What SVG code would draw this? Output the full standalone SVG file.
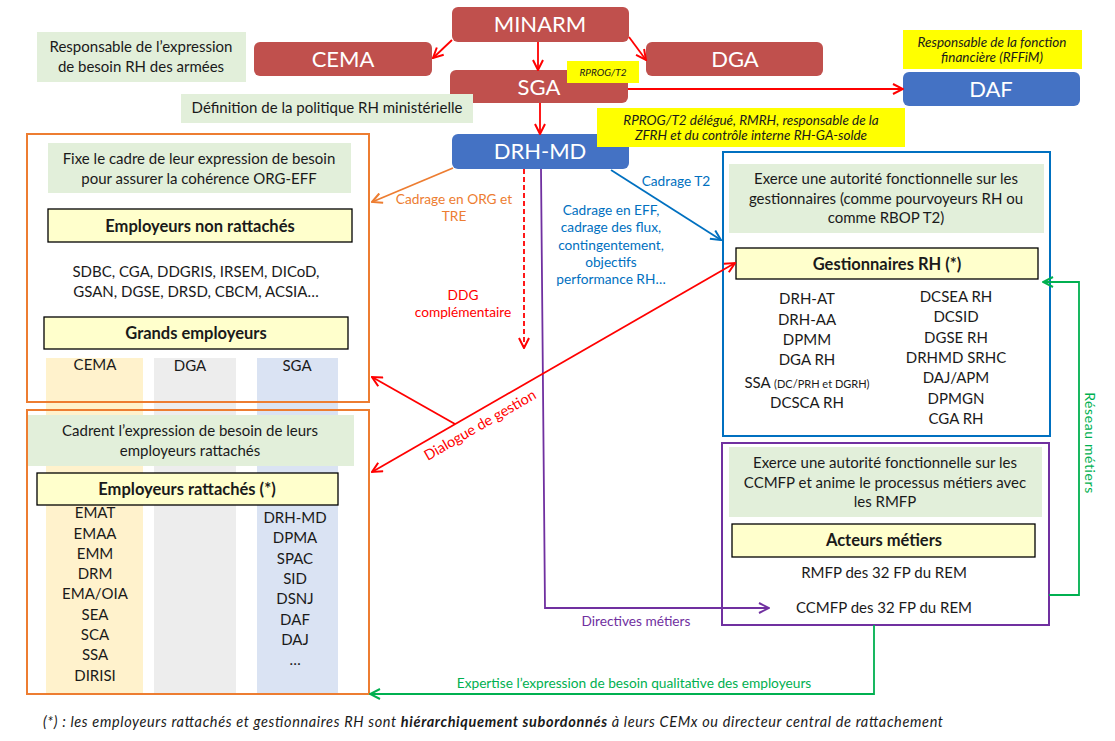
<svg xmlns="http://www.w3.org/2000/svg" width="1115" height="741" viewBox="0 0 1115 741">
<defs>
<style>
text{font-family:Lato,"Open Sans","Liberation Sans",sans-serif;fill:#1a1a1a;text-anchor:middle}
.big{font-size:22px;fill:#fff}
.note{fill:#E2EFDA}
.nt{font-size:15px}
.yel{fill:#FFFF00}
.yt{font-size:13.5px;font-style:italic}
.hdr{fill:#FFFFCC;stroke:#000;stroke-width:1.3}
.ht{font-size:16.5px;font-weight:bold}
.li{font-size:15px}
.red{fill:#C0504D}
.blue{fill:#4472C4}
.c{fill:none;stroke-width:1.8}
.cr{stroke:#FF0000}
.co{stroke:#ED7D31}
.cb{stroke:#0070C0}
.cp{stroke:#7030A0}
.cg{stroke:#00B050}
.lab{font-size:13.7px}
</style>
<marker id="ar" viewBox="0 0 12 12" refX="11" refY="6" markerWidth="12" markerHeight="12" markerUnits="userSpaceOnUse" orient="auto-start-reverse"><path d="M1,1 L11,6 L1,11" fill="none" stroke="#FF0000" stroke-width="2"/></marker>
<marker id="ao" viewBox="0 0 12 12" refX="11" refY="6" markerWidth="12" markerHeight="12" markerUnits="userSpaceOnUse" orient="auto"><path d="M1,1 L11,6 L1,11" fill="none" stroke="#ED7D31" stroke-width="2"/></marker>
<marker id="ab" viewBox="0 0 12 12" refX="11" refY="6" markerWidth="12" markerHeight="12" markerUnits="userSpaceOnUse" orient="auto"><path d="M1,1 L11,6 L1,11" fill="none" stroke="#0070C0" stroke-width="2"/></marker>
<marker id="ap" viewBox="0 0 12 12" refX="11" refY="6" markerWidth="12" markerHeight="12" markerUnits="userSpaceOnUse" orient="auto"><path d="M1,1 L11,6 L1,11" fill="none" stroke="#7030A0" stroke-width="2"/></marker>
<marker id="ag" viewBox="0 0 12 12" refX="11" refY="6" markerWidth="12" markerHeight="12" markerUnits="userSpaceOnUse" orient="auto"><path d="M1,1 L11,6 L1,11" fill="none" stroke="#00B050" stroke-width="2"/></marker>
</defs>
<rect width="1115" height="741" fill="#fff"/>

<!-- columns of grand employers -->
<g id="columns">
<rect x="46" y="358" width="97" height="335" fill="#FFF2CC"/>
<rect x="154" y="358" width="82" height="335" fill="#EDEDED"/>
<rect x="257" y="358" width="81" height="335" fill="#DAE3F3"/>
</g>

<g id="minarm"><rect class="red" x="452" y="7" width="177" height="35" rx="6"/><text class="big" x="540" y="32">MINARM</text></g>
<g id="cema"><rect class="red" x="254" y="42" width="178" height="34" rx="6"/><text class="big" x="343" y="67">CEMA</text></g>
<g id="dga"><rect class="red" x="646" y="42" width="177" height="34" rx="6"/><text class="big" x="735" y="67">DGA</text></g>
<g id="sga"><rect class="red" x="450" y="70" width="178" height="33" rx="6"/><text class="big" x="539" y="95">SGA</text></g>
<g id="drhmd"><rect class="blue" x="452" y="134" width="177" height="35" rx="6"/><text class="big" x="540" y="159">DRH-MD</text></g>
<g id="daf"><rect class="blue" x="903" y="72" width="177" height="34" rx="6"/><text class="big" x="991" y="97">DAF</text></g>

<g id="note-cema"><rect class="note" x="37" y="32" width="209" height="50"/><text class="nt" x="141" y="52">Responsable de l’expression</text><text class="nt" x="141" y="72">de besoin RH des armées</text></g>
<g id="note-sga"><rect class="note" x="181" y="94" width="292" height="29"/><text class="nt" x="327" y="113">Définition de la politique RH ministérielle</text></g>
<g id="note-rprog"><rect class="yel" x="567" y="61" width="72" height="22"/><text class="yt" x="603" y="76" style="font-size:10px">RPROG/T2</text></g>
<g id="note-daf"><rect class="yel" x="903" y="30" width="179" height="39"/><text class="yt" x="992" y="47">Responsable de la fonction</text><text class="yt" x="992" y="62">financière (RFFiM)</text></g>
<g id="note-drhmd"><rect class="yel" x="597" y="108" width="308" height="39"/><text class="yt" x="751" y="125">RPROG/T2 délégué, RMRH, responsable de la</text><text class="yt" x="751" y="140">ZFRH et du contrôle interne RH-GA-solde</text></g>

<g id="box-non-rattaches">
<rect x="27" y="134" width="342" height="268" fill="none" stroke="#ED7D31" stroke-width="2"/>
<rect class="note" x="48" y="143" width="303" height="50"/>
<text class="nt" x="199" y="164">Fixe le cadre de leur expression de besoin</text>
<text class="nt" x="199" y="184">pour assurer la cohérence ORG-EFF</text>
<rect class="hdr" x="48" y="209" width="304" height="33"/>
<text class="ht" x="200" y="232">Employeurs non rattachés</text>
<text class="li" x="196" y="277">SDBC, CGA, DDGRIS, IRSEM, DICoD,</text>
<text class="li" x="196" y="297">GSAN, DGSE, DRSD, CBCM, ACSIA…</text>
<rect class="hdr" x="44" y="317" width="304" height="32"/>
<text class="ht" x="196" y="339">Grands employeurs</text>
<text class="li" x="95" y="370">CEMA</text>
<text class="li" x="190" y="371">DGA</text>
<text class="li" x="297" y="371">SGA</text>
</g>

<g id="box-rattaches">
<rect x="27" y="410" width="342" height="284" fill="none" stroke="#ED7D31" stroke-width="2"/>
<rect class="note" x="28" y="415" width="326" height="51"/>
<text class="nt" x="190" y="436">Cadrent l’expression de besoin de leurs</text>
<text class="nt" x="190" y="456">employeurs  rattachés</text>
<rect class="hdr" x="37" y="473" width="301" height="32"/>
<text class="ht" x="187" y="495">Employeurs rattachés (*)</text>
<text class="li" x="95" y="518">EMAT</text>
<text class="li" x="95" y="539">EMAA</text>
<text class="li" x="95" y="559">EMM</text>
<text class="li" x="95" y="579">DRM</text>
<text class="li" x="95" y="599">EMA/OIA</text>
<text class="li" x="95" y="620">SEA</text>
<text class="li" x="95" y="640">SCA</text>
<text class="li" x="95" y="660">SSA</text>
<text class="li" x="95" y="681">DIRISI</text>
<text class="li" x="295" y="523">DRH-MD</text>
<text class="li" x="295" y="543">DPMA</text>
<text class="li" x="295" y="564">SPAC</text>
<text class="li" x="295" y="584">SID</text>
<text class="li" x="295" y="604">DSNJ</text>
<text class="li" x="295" y="625">DAF</text>
<text class="li" x="295" y="645">DAJ</text>
<text class="li" x="295" y="665">…</text>
</g>

<g id="box-gestionnaires">
<rect x="723" y="152" width="327" height="284" fill="none" stroke="#0070C0" stroke-width="2"/>
<rect class="note" x="729" y="164" width="315" height="69"/>
<text class="nt" x="886" y="184">Exerce une autorité fonctionnelle  sur les</text>
<text class="nt" x="886" y="204">gestionnaires (comme  pourvoyeurs  RH ou</text>
<text class="nt" x="886" y="223">comme  RBOP T2)</text>
<rect class="hdr" x="736" y="248" width="302" height="31"/>
<text class="ht" x="887" y="270">Gestionnaires RH (*)</text>
<text class="li" x="807" y="304">DRH-AT</text>
<text class="li" x="807" y="325">DRH-AA</text>
<text class="li" x="807" y="345">DPMM</text>
<text class="li" x="807" y="365">DGA RH</text>
<text class="li" x="807" y="388">SSA <tspan style="font-size:11px">(DC/PRH et DGRH)</tspan></text>
<text class="li" x="807" y="408">DCSCA RH</text>
<text class="li" x="956" y="302">DCSEA RH</text>
<text class="li" x="956" y="322">DCSID</text>
<text class="li" x="956" y="343">DGSE RH</text>
<text class="li" x="956" y="363">DRHMD SRHC</text>
<text class="li" x="956" y="383">DAJ/APM</text>
<text class="li" x="956" y="404">DPMGN</text>
<text class="li" x="956" y="424">CGA RH</text>
</g>

<g id="box-metiers">
<rect x="722" y="443" width="327" height="182" fill="none" stroke="#7030A0" stroke-width="2"/>
<rect class="note" x="729" y="447" width="313" height="70"/>
<text class="nt" x="885" y="468">Exerce une autorité fonctionnelle sur les</text>
<text class="nt" x="885" y="488">CCMFP et anime le processus métiers avec</text>
<text class="nt" x="885" y="507">les RMFP</text>
<rect class="hdr" x="732" y="524" width="303" height="33"/>
<text class="ht" x="884" y="546">Acteurs métiers</text>
<text class="li" x="884" y="578">RMFP des 32 FP du REM</text>
<text class="li" x="884" y="613">CCMFP des 32 FP du REM</text>
</g>

<g id="connectors">
<line class="c cr" x1="452" y1="40" x2="433" y2="58" marker-end="url(#ar)"/>
<line class="c cr" x1="629" y1="37" x2="646" y2="60" marker-end="url(#ar)"/>
<line class="c cr" x1="538" y1="42" x2="538" y2="70" marker-end="url(#ar)"/>
<line class="c cr" x1="540" y1="103" x2="540" y2="134" marker-end="url(#ar)"/>
<line class="c cr" x1="628" y1="89" x2="903" y2="89" marker-end="url(#ar)"/>
<line class="c co" x1="453" y1="168" x2="372" y2="202" marker-end="url(#ao)"/>
<line class="c cb" x1="611" y1="170" x2="721" y2="240" marker-end="url(#ab)"/>
<line class="c cr" x1="524" y1="169" x2="524" y2="348" stroke-dasharray="5,3" marker-end="url(#ar)"/>
<polyline class="c cp" points="541,169 545,608 769,608" marker-end="url(#ap)"/>
<line class="c cr" x1="372" y1="472" x2="735" y2="263" marker-start="url(#ar)" marker-end="url(#ar)"/>
<line class="c cr" x1="455" y1="424" x2="372" y2="377" marker-end="url(#ar)"/>
<polyline class="c cg" points="874,625 874,694 370,694" marker-end="url(#ag)"/>
<polyline class="c cg" points="1049,595 1079,595 1079,282 1043,282" marker-end="url(#ag)"/>
</g>

<g id="labels">
<text class="lab" x="454" y="204" style="fill:#ED7D31">Cadrage en ORG et</text>
<text class="lab" x="454" y="221" style="fill:#ED7D31">TRE</text>
<text class="lab" x="676" y="186" style="fill:#0070C0">Cadrage T2</text>
<text class="lab" x="611" y="215" style="fill:#0070C0">Cadrage en EFF,</text>
<text class="lab" x="611" y="232" style="fill:#0070C0">cadrage des flux,</text>
<text class="lab" x="611" y="250" style="fill:#0070C0">contingentement,</text>
<text class="lab" x="611" y="267" style="fill:#0070C0">objectifs</text>
<text class="lab" x="611" y="284" style="fill:#0070C0">performance RH…</text>
<text class="lab" x="463" y="300" style="fill:#FF0000">DDG</text>
<text class="lab" x="463" y="317" style="fill:#FF0000">complémentaire</text>
<text class="lab" x="480" y="430" transform="rotate(-30 480 425)" style="fill:#FF0000;font-size:14.5px">Dialogue de gestion</text>
<text class="lab" x="636" y="626" style="fill:#7030A0">Directives métiers</text>
<text class="lab" x="634" y="688" style="fill:#00B050">Expertise l’expression de besoin qualitative des employeurs</text>
<text class="lab" x="0" y="0" transform="translate(1085 443) rotate(90)" style="fill:#00B050;font-size:14px;letter-spacing:0.6px">Réseau métiers</text>
</g>

<g id="footnote">
<text x="43" y="727" textLength="900" lengthAdjust="spacing" style="font-size:14.5px;font-style:italic;text-anchor:start">(*) : les employeurs rattachés  et gestionnaires  RH sont <tspan font-weight="bold">hiérarchiquement  subordonnés</tspan>  à leurs CEMx ou directeur central de rattachement</text>
</g>
</svg>
